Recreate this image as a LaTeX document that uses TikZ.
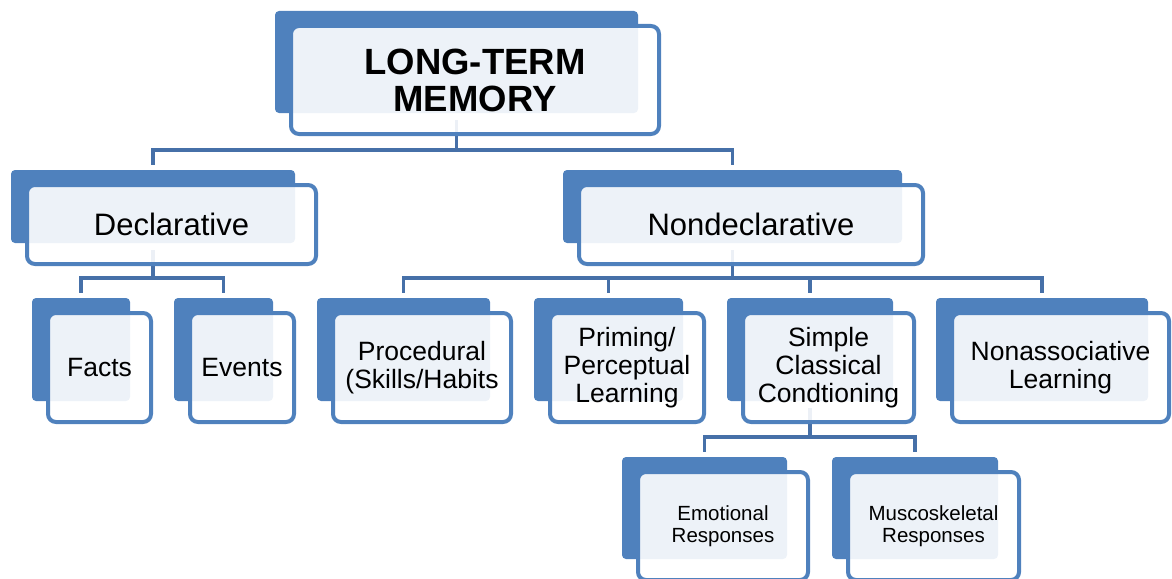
\documentclass[tikz,border=0pt]{standalone}
\usepackage{fontspec}
\setmainfont{Liberation Sans}
\usetikzlibrary{positioning, backgrounds}

\definecolor{memblue}{RGB}{79,129,189}
\definecolor{linkblue}{RGB}{70,112,168}

% back plate + framed front card, both named (#2 and #2-t)
\newcommand{\memnode}[6][]{%
  \node[back, minimum width=#4pt, minimum height=#5pt, anchor=north west] (#2) at (#3) {};
  \node[front, minimum width=#4pt+5pt, minimum height=#5pt+6pt, anchor=north west, #1]
       (#2-t) at ([shift={(16,15)}]#2.north west) {#6};
}

\begin{document}
\begin{tikzpicture}[
        x = 1pt, y = -1pt,
        back/.style  = {rectangle, fill=memblue, rounded corners=4pt, inner sep=0pt, outer sep=0pt},
        front/.style = {rectangle, draw=memblue, line width=4pt, fill=white, fill opacity=0.9,
                        text opacity=1, rounded corners=8pt, inner sep=0pt, outer sep=0pt,
                        align=center, font=\fontsize{26.5}{28}\selectfont},
        link/.style  = {draw=linkblue, line width=3.5pt}
    ]

    \useasboundingbox (0,0) rectangle (1172,578);
    \clip (0,0) rectangle (1172,578);

    \memnode[font=\fontsize{36.5}{37}\selectfont\bfseries]{ltm}{275,11}{363}{102}{LONG-TERM\\MEMORY}

    \memnode[font=\fontsize{31}{33}\selectfont]{decl}{11,170}{284}{73}{Declarative}
    \memnode[font=\fontsize{31}{33}\selectfont]{nondecl}{563,170}{339}{73}{Nondeclarative}

    \memnode{facts}{32,298}{98}{103}{Facts}
    \memnode{events}{174,298}{99}{103}{Events}
    \memnode{proc}{317,298}{173}{103}{Procedural\\(Skills/Habits}
    \memnode{prim}{534,298}{149}{103}{Priming/\\Perceptual\\Learning}
    \memnode{simple}{727,298}{166}{103}{Simple\\Classical\\Condtioning}
    \memnode{nonassoc}{936,298}{212}{103}{Nonassociative\\Learning}

    \memnode[font=\fontsize{20.5}{22}\selectfont]{emot}{622,457}{165}{102}{Emotional\\Responses}
    \memnode[font=\fontsize{20.5}{22}\selectfont]{musc}{832,457}{166}{102}{Muscoskeletal\\Responses}

    \begin{pgfonlayer}{background}
    \draw[link] ([yshift=-7pt]ltm.south) |- ([yshift=20pt]decl.north) -- ([yshift=5pt]decl.north);
    \draw[link] ([yshift=-7pt]ltm.south) |- ([yshift=20pt]nondecl.north) -- ([yshift=5pt]nondecl.north);

    \draw[link] ([yshift=-7pt]decl.south) |- ([yshift=20pt]facts.north) -- ([yshift=5pt]facts.north);
    \draw[link] ([yshift=-7pt]decl.south) |- ([yshift=20pt]events.north) -- ([yshift=5pt]events.north);

    \draw[link] ([yshift=-7pt]nondecl.south) |- ([yshift=20pt]proc.north) -- ([yshift=5pt]proc.north);
    \draw[link] ([yshift=-7pt]nondecl.south) |- ([yshift=20pt]prim.north) -- ([yshift=5pt]prim.north);
    \draw[link] ([yshift=-7pt]nondecl.south) |- ([yshift=20pt]simple.north) -- ([yshift=5pt]simple.north);
    \draw[link] ([yshift=-7pt]nondecl.south) |- ([yshift=20pt]nonassoc.north) -- ([yshift=5pt]nonassoc.north);

    \draw[link] ([yshift=-7pt]simple.south) |- ([yshift=20pt]emot.north) -- ([yshift=5pt]emot.north);
    \draw[link] ([yshift=-7pt]simple.south) |- ([yshift=20pt]musc.north) -- ([yshift=5pt]musc.north);
    \end{pgfonlayer}

\end{tikzpicture}
\end{document}
